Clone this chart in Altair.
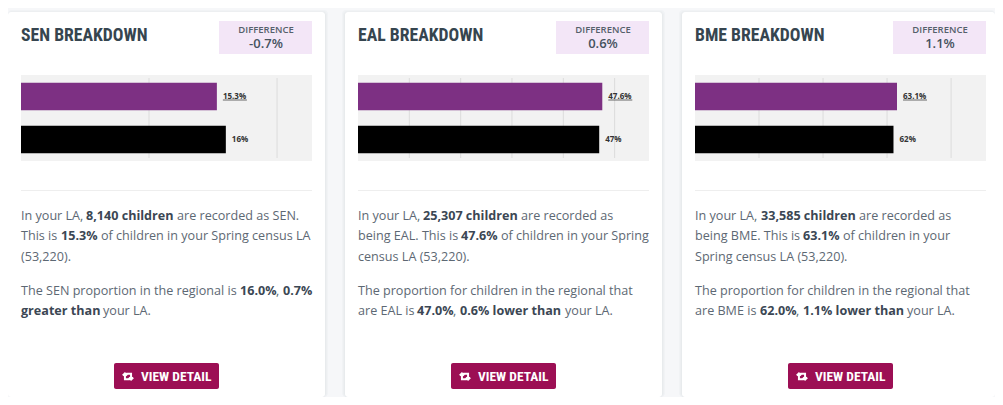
import altair as alt
import pandas as pd

PAGE_BG = "#f6f7f9"
BODY = "#5d6873"
STRONG = "#3b4754"
TITLE = "#36454f"
BODY_FONT = "Open Sans"
HEAD_FONT = "'Roboto Condensed','Open Sans Condensed','DejaVu Sans Condensed',Roboto"

titles = ["SEN BREAKDOWN", "EAL BREAKDOWN", "BME BREAKDOWN"]
differences = ["-0.7%", "0.6%", "1.1%"]
la_values = [15.3, 47.6, 63.1]
regional_values = [16.0, 47.0, 62.0]
la_labels = ["15.3%", "47.6%", "63.1%"]
regional_labels = ["16%", "47%", "62%"]
domain_max = [22.73, 56.7, 90.9]
grid_ticks = [[10, 20], [10, 20, 30, 40, 50], [20, 40, 60, 80]]
row_names = ["LA", "Regional"]

# (text, is_bold, x offset in the card's text column), one list per line
sen_lines = [
    [("In your LA,", 0, 0), ("8,140 children", 1, 65), ("are recorded as SEN.", 0, 156)],
    [("This is", 0, 0), ("15.3%", 1, 40), ("of children in your Spring census LA", 0, 80)],
    [("(53,220).", 0, 0)],
    [("The SEN proportion in the regional is", 0, 0), ("16.0%", 1, 219), (",", 0, 255), ("0.7%", 1, 262)],
    [("greater than", 1, 0), ("your LA.", 0, 82)],
]
eal_lines = [
    [("In your LA,", 0, 0), ("25,307 children", 1, 65), ("are recorded as", 0, 163)],
    [("being EAL. This is", 0, 0), ("47.6%", 1, 103), ("of children in your Spring", 0, 143)],
    [("census LA (53,220).", 0, 0)],
    [("The proportion for children in the regional that", 0, 0)],
    [("are EAL is", 0, 0), ("47.0%", 1, 59), (",", 0, 95), ("0.6% lower than", 1, 102), ("your LA.", 0, 207)],
]
bme_lines = [
    [("In your LA,", 0, 0), ("33,585 children", 1, 66), ("are recorded as", 0, 164)],
    [("being BME. This is", 0, 0), ("63.1%", 1, 108), ("of children in your", 0, 148)],
    [("Spring census LA (53,220).", 0, 0)],
    [("The proportion for children in the regional that", 0, 0)],
    [("are BME is", 0, 0), ("62.0%", 1, 65), (",", 0, 101), ("1.1% lower than", 1, 108), ("your LA.", 0, 212)],
]
all_lines = [sen_lines, eal_lines, bme_lines]

line_y = [141, 161, 181.5, 216, 235.5]
ICON = ("M-0.85 -0.15 L-0.5 -0.5 L-0.15 -0.15 M-0.5 -0.5 L-0.5 0.45 L0.3 0.45 "
        "M0.85 0.15 L0.5 0.5 L0.15 0.15 M0.5 0.5 L0.5 -0.45 L-0.3 -0.45")

one = pd.DataFrame({"a": [1]})


def box(x, x2, y, y2, color, opacity=1.0, radius=0):
    return alt.Chart(one).mark_rect(color=color, opacity=opacity, cornerRadius=radius).encode(
        x=alt.value(x), x2=alt.value(x2), y=alt.value(y), y2=alt.value(y2))


def label(text, x, y, size=13, weight="normal", color=BODY, font=BODY_FONT, align="left"):
    return alt.Chart(one).mark_text(
        text=text, fontSize=size, fontWeight=weight, color=color, font=font,
        align=align, baseline="middle").encode(x=alt.value(x), y=alt.value(y))


def panel(i):
    layers = []
    # the canvas ends 8px short of the window, so the edge cards stop there
    left_limit = -13 if i == 0 else -16
    right_limit = 300 if i == 2 else 307
    bottom_limit = 322
    # frame: stretches the canvas to the page's edges
    if i == 0:
        layers.append(box(-13, 0, -67, bottom_limit, PAGE_BG))
    if i == 2:
        layers.append(box(0, right_limit, -67, bottom_limit, PAGE_BG))
    # card and its soft shadow
    for grow, op in [(3, 0.25), (2, 0.35), (1, 0.5)]:
        layers.append(box(max(left_limit, -13 - grow), min(right_limit, 304 + grow),
                          -63 - grow + 1, min(bottom_limit, 323 + grow), "#e4e7ea", op, 4))
    layers.append(box(-13, min(right_limit, 304), -63, min(bottom_limit, 323), "#ffffff", 1, 3))
    # heading
    layers.append(label(titles[i], 0, -38.7, 17.7, "bold", TITLE, HEAD_FONT))
    layers.append(box(198, 291, -54, -21, "#f3e6f7"))
    layers.append(label("DIFFERENCE", 245, -45.5, 9.5, 600, "#55606b", align="center"))
    layers.append(label(differences[i], 245, -31.5, 13, 600, "#45525e", align="center"))
    # plot ground
    layers.append(box(0, 291, 0, 86, "#f2f2f2"))
    x_scale = alt.Scale(domain=[0, domain_max[i]], nice=False)
    y_scale = alt.Scale(domain=row_names, paddingInner=0, paddingOuter=0)
    grid = alt.Chart(pd.DataFrame({"t": grid_ticks[i]})).mark_rule(color="#dcdcdc", strokeWidth=1).encode(
        x=alt.X("t:Q", scale=x_scale, axis=None), y=alt.value(3), y2=alt.value(83))
    layers.append(grid)
    bars_df = pd.DataFrame({
        "row": row_names,
        "value": [la_values[i], regional_values[i]],
        "label": [la_labels[i], regional_labels[i]],
    })
    x_enc = alt.X("value:Q", scale=x_scale, axis=None)
    y_enc = alt.Y("row:N", scale=y_scale, axis=None)
    layers.append(alt.Chart(bars_df).mark_bar(size=27.5).encode(
        x=x_enc, y=y_enc,
        color=alt.Color("row:N", scale=alt.Scale(domain=row_names, range=["#7d3083", "#000000"]), legend=None)))
    layers.append(alt.Chart(bars_df).mark_text(
        align="left", baseline="middle", dx=6, fontSize=8, fontWeight="bold",
        font=BODY_FONT, color="#333333").encode(x=x_enc, y=y_enc, text="label:N"))
    # underline beneath the LA value
    layers.append(alt.Chart(bars_df[bars_df.row == "LA"]).mark_rule(
        color="#444444", strokeWidth=0.8, xOffset=6, x2Offset=30, yOffset=3.5, y2Offset=3.5).encode(
        x=x_enc, x2="value:Q", y=y_enc))
    # separator
    layers.append(box(0, 291, 115, 116, "#eeeeee"))
    # running text
    for y, runs in zip(line_y, all_lines[i]):
        for text, bold, x in runs:
            layers.append(label(text, x, y, 12.6,
                                "bold" if bold else "normal",
                                STRONG if bold else BODY))
    # button
    layers.append(box(93, 198, 288, 314, "#9c0f54", 1, 2))
    layers.append(alt.Chart(one).mark_point(
        shape=ICON, filled=False, color="#ffffff", strokeWidth=2, size=150, opacity=1).encode(
        x=alt.value(107), y=alt.value(301.5)))
    layers.append(label("VIEW DETAIL", 120, 301.5, 13.5, "bold", "#ffffff", HEAD_FONT))
    return alt.layer(*layers).resolve_scale(color="independent").properties(width=291, height=86)


chart = alt.hconcat(panel(0), panel(1), panel(2), spacing=46, bounds="flush").properties(
    background=PAGE_BG, padding=0
).configure_view(stroke=None)

chart.save("out.html", embed_options={"renderer": "svg", "actions": False})
